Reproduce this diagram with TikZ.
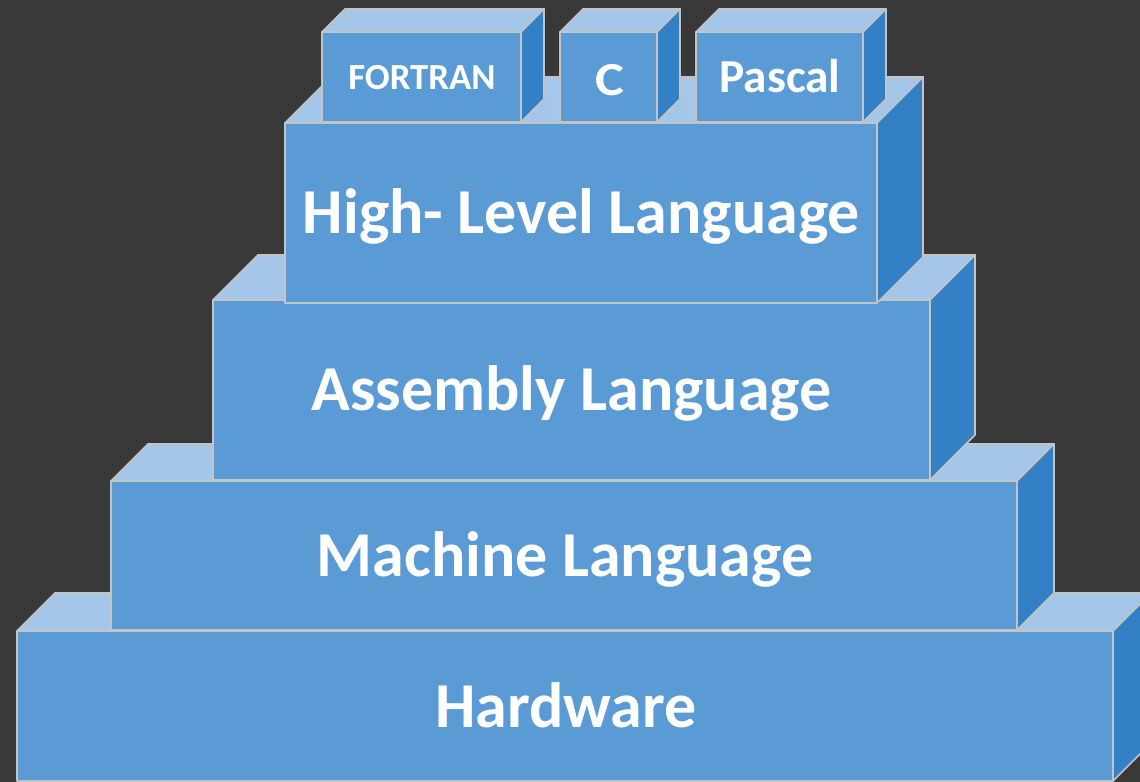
\documentclass[tikz,border=0pt]{standalone}
\usepackage{fontspec}
\newfontfamily\labelfont{Carlito}

\definecolor{bg}{HTML}{393939}
\definecolor{frontc}{HTML}{5B9BD5}
\definecolor{topc}{HTML}{A3C6E9}
\definecolor{sidec}{HTML}{3380C6}
\definecolor{edgec}{HTML}{C4C4C4}

\tikzset{
  face/.style={draw=edgec, line width=1.3pt, line join=round},
  frontface/.style={face, fill=frontc},
  topface/.style={face, fill=topc},
  sideface/.style={face, fill=sidec},
  layerlabel/.style={text=white, anchor=base, inner sep=0pt,
    font=\labelfont\bfseries\fontsize{48}{51}\selectfont},
  langlabel/.style={text=white, anchor=base, inner sep=0pt,
    font=\labelfont\bfseries\fontsize{35.5}{38}\selectfont},
  smalllabel/.style={text=white, anchor=base, inner sep=0pt,
    font=\labelfont\bfseries\fontsize{27.6}{30}\selectfont},
}

% A block seen from the front: front face from top-left (#1,#2) to
% bottom-right (#3,#4), receding by #5 up and to the right.
\newcommand\slab[5]{%
  \draw[topface] (#1,#2) -- (#1+#5,#2-#5) -- (#3+#5,#2-#5) -- (#3,#2) -- cycle;
  \draw[sideface] (#3,#2) -- (#3+#5,#2-#5) -- (#3+#5,#4-#5) -- (#3,#4) -- cycle;
  \draw[frontface] (#1,#2) rectangle (#3,#4);
}

\begin{document}
\begin{tikzpicture}[x=0.75pt, y=-0.75pt]
  \useasboundingbox (0,0) rectangle (1140,782);
  \fill[bg] (0,0) rectangle (1140,782);
  \clip (0,0) rectangle (1140,782);

  % layers, from the bottom up
  \slab{17}{631}{1113}{781}{38}
  \node[layerlabel] (hardware) at (566,727) {Hardware};

  \slab{111}{481}{1017}{630}{37}
  \node[layerlabel] (machine) at (565,576) {Machine Language};

  \slab{213}{300}{930}{480}{45}
  \node[layerlabel] (assembly) at (571.5,410.5) {Assembly Language};

  \slab{285}{123}{877}{303}{46}
  \node[layerlabel] (highlevel) at (581.5,233.5) {High- Level Language};

  % languages sitting on top
  \slab{322}{32}{521}{122}{23}
  \node[smalllabel] (fortran) at (422,89) {FORTRAN};

  \slab{560}{32}{657}{122}{23}
  \node[langlabel, xscale=1.15] (clang) at (610,95) {C};

  \slab{696}{32}{863}{122}{23}
  \node[langlabel] (pascal) at (780,92) {Pascal};
\end{tikzpicture}
\end{document}
